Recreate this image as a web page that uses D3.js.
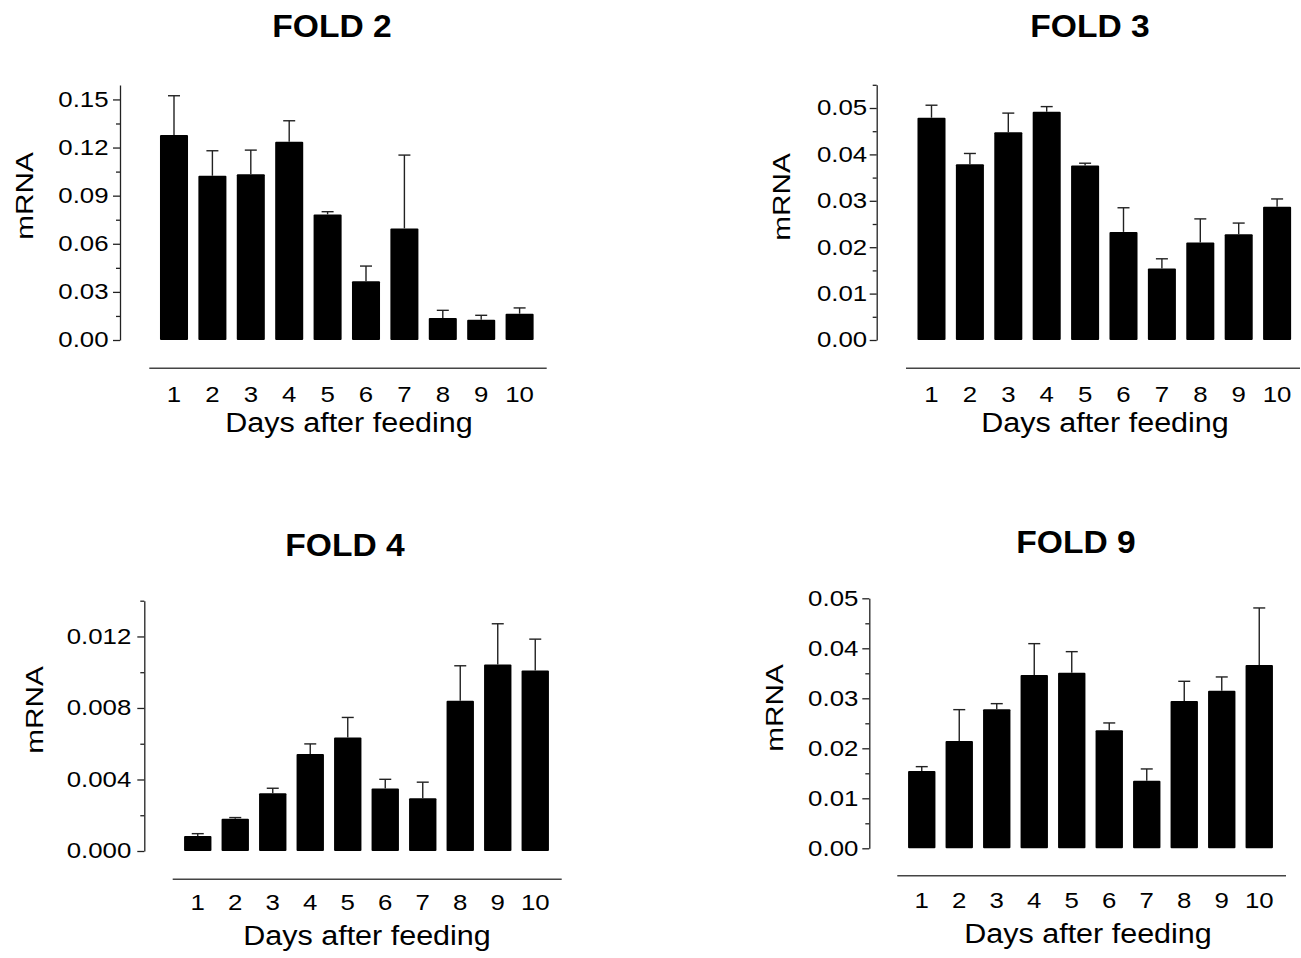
<!DOCTYPE html>
<html>
<head>
<meta charset="utf-8">
<script src="https://cdn.jsdelivr.net/npm/d3@7"></script>
<style>
  html, body { margin: 0; padding: 0; background: #fff; }
  svg { display: block; }
  text { font-family: "Liberation Sans", Arial, Helvetica, sans-serif; fill: #000; }
</style>
</head>
<body>
<svg id="chart" width="1301" height="958"></svg>
<script>
// ---------------- data ----------------
const days = ["1", "2", "3", "4", "5", "6", "7", "8", "9", "10"];
const xAxisTitle = "Days after feeding";
const yAxisTitle = "mRNA";

const fold2Title = "FOLD 2";
const fold2Mean = [0.1278, 0.1024, 0.1033, 0.1236, 0.0783, 0.0366, 0.0696, 0.0137, 0.0127, 0.0164];
const fold2Sem  = [0.0245, 0.0156, 0.0151, 0.0131, 0.0017, 0.0095, 0.0457, 0.0048, 0.0027, 0.0036];
const fold2Ticks = [0, 0.03, 0.06, 0.09, 0.12, 0.15];
const fold2Minor = [0.015, 0.045, 0.075, 0.105, 0.135];

const fold3Title = "FOLD 3";
const fold3Mean = [0.0479, 0.0379, 0.0448, 0.0492, 0.0376, 0.0233, 0.0154, 0.0210, 0.0228, 0.0287];
const fold3Sem  = [0.0027, 0.0023, 0.0041, 0.0011, 0.0005, 0.0052, 0.0021, 0.0051, 0.0024, 0.0017];
const fold3Ticks = [0, 0.01, 0.02, 0.03, 0.04, 0.05];
const fold3Minor = [0.005, 0.015, 0.025, 0.035, 0.045, 0.055];

const fold4Title = "FOLD 4";
const fold4Mean = [0.00084, 0.00181, 0.00323, 0.00543, 0.00635, 0.00349, 0.00295, 0.0084, 0.01043, 0.0101];
const fold4Sem  = [0.00013, 0.00006, 0.00028, 0.00056, 0.00112, 0.00052, 0.0009, 0.00196, 0.00228, 0.00175];
const fold4Ticks = [0, 0.004, 0.008, 0.012];
const fold4Minor = [0.002, 0.006, 0.010, 0.014];

const fold9Title = "FOLD 9";
const fold9Mean = [0.01547, 0.02147, 0.0278, 0.03467, 0.03513, 0.0236, 0.01353, 0.02947, 0.03153, 0.03667];
const fold9Sem  = [0.00086, 0.00626, 0.00113, 0.00626, 0.0042, 0.00147, 0.00234, 0.00393, 0.00274, 0.0114];
const fold9Ticks = [0, 0.01, 0.02, 0.03, 0.04, 0.05];
const fold9Minor = [0.005, 0.015, 0.025, 0.035, 0.045];

// ---------------- layout ----------------
const panels = [
  { title: fold2Title, mean: fold2Mean, sem: fold2Sem, ticks: fold2Ticks, minor: fold2Minor, fmt: ".2f",
    yMax: 0.159, axisX: 120, y0: 340, yTop: 85, bandStart: 154.8, step: 38.4, labGap: 11.5,
    titleX: 332, titleY: 37, yLabX: 25, yLabY: 196,
    baseY: 368.3, baseX0: 149.3, baseX1: 546.7, tickY: 402, xLabX: 349, xLabY: 432 },
  { title: fold3Title, mean: fold3Mean, sem: fold3Sem, ticks: fold3Ticks, minor: fold3Minor, fmt: ".2f",
    yMax: 0.055, axisX: 876.7, y0: 340, yTop: 84.8, bandStart: 912.3, step: 38.4, labGap: 9.5,
    titleX: 1090, titleY: 37, yLabX: 782, yLabY: 197,
    baseY: 368.3, baseX0: 906, baseX1: 1300, tickY: 402, xLabX: 1105, xLabY: 432 },
  { title: fold4Title, mean: fold4Mean, sem: fold4Sem, ticks: fold4Ticks, minor: fold4Minor, fmt: ".3f",
    yMax: 0.014, axisX: 144.3, y0: 851, yTop: 600.7, bandStart: 179, step: 37.5, labGap: 13,
    titleX: 345, titleY: 556, yLabX: 35, yLabY: 710,
    baseY: 879.3, baseX0: 172.7, baseX1: 561.7, tickY: 910, xLabX: 367, xLabY: 945 },
  { title: fold9Title, mean: fold9Mean, sem: fold9Sem, ticks: fold9Ticks, minor: fold9Minor, fmt: ".2f",
    yMax: 0.05, axisX: 869.3, y0: 848.3, yTop: 598.3, bandStart: 903, step: 37.5, labGap: 11,
    titleX: 1076, titleY: 553, yLabX: 775, yLabY: 708,
    baseY: 875.7, baseX0: 897.3, baseX1: 1286, tickY: 907.5, xLabX: 1088, xLabY: 943 }
];

const TICK_FS = 21.5, TICK_SX = 1.2;
const XT_FS = 28, XT_SX = 1.09;
const TITLE_FS = 32, TITLE_SX = 1.05;
const YT_FS = 24, YT_SX = 1.24;

const svg = d3.select("#chart");
svg.append("rect").attr("width", 1301).attr("height", 958).attr("fill", "#fff");

panels.forEach(p => {
  const g = svg.append("g");
  const x = d3.scaleBand()
    .domain(days)
    .range([p.bandStart, p.bandStart + p.step * days.length])
    .paddingInner(0.27)
    .paddingOuter(0.135);
  const y = d3.scaleLinear().domain([0, p.yMax]).range([p.y0, p.yTop]);

  // title
  g.append("text")
    .attr("transform", `translate(${p.titleX},${p.titleY}) scale(${TITLE_SX},1)`)
    .attr("text-anchor", "middle")
    .style("font-size", TITLE_FS + "px").style("font-weight", "bold")
    .text(p.title);

  // y axis (major)
  const yAxis = g.append("g")
    .attr("transform", `translate(${p.axisX},0)`)
    .call(d3.axisLeft(y).tickValues(p.ticks).tickFormat(d3.format(p.fmt))
      .tickSize(7).tickSizeOuter(0).tickPadding(4));
  yAxis.select(".domain").attr("stroke", "#222").attr("stroke-width", 1.3);
  yAxis.selectAll(".tick line").attr("stroke", "#222").attr("stroke-width", 1.3);
  yAxis.selectAll(".tick text")
    .attr("font-family", null)
    .attr("font-size", null)
    .style("font-size", TICK_FS + "px")
    .attr("x", -p.labGap / TICK_SX)
    .attr("transform", `scale(${TICK_SX},1)`);

  // y axis (minor)
  const yMinor = g.append("g")
    .attr("transform", `translate(${p.axisX},0)`)
    .call(d3.axisLeft(y).tickValues(p.minor).tickFormat(() => "")
      .tickSize(4).tickSizeOuter(0));
  yMinor.select(".domain").remove();
  yMinor.selectAll(".tick text").remove();
  yMinor.selectAll(".tick line").attr("stroke", "#222").attr("stroke-width", 1.3);

  // y title
  g.append("text")
    .attr("transform", `translate(${p.yLabX},${p.yLabY}) rotate(-90) scale(${YT_SX},1)`)
    .attr("text-anchor", "middle")
    .attr("dominant-baseline", "central")
    .style("font-size", YT_FS + "px")
    .text(yAxisTitle);

  // bars
  const data = days.map((d, i) => ({ day: d, mean: p.mean[i], sem: p.sem[i] }));
  g.append("g").selectAll("rect")
    .data(data).join("rect")
    .attr("x", d => x(d.day))
    .attr("width", x.bandwidth())
    .attr("y", d => y(d.mean))
    .attr("height", d => y(0) - y(d.mean))
    .attr("fill", "#000")
    .attr("rx", 1);

  // error bars (upper)
  const eb = g.append("g").attr("stroke", "#222").attr("stroke-width", 1.4);
  eb.selectAll("line.v").data(data).join("line").attr("class", "v")
    .attr("x1", d => x(d.day) + x.bandwidth() / 2)
    .attr("x2", d => x(d.day) + x.bandwidth() / 2)
    .attr("y1", d => y(d.mean))
    .attr("y2", d => y(d.mean + d.sem));
  eb.selectAll("line.c").data(data).join("line").attr("class", "c")
    .attr("x1", d => x(d.day) + x.bandwidth() / 2 - 6)
    .attr("x2", d => x(d.day) + x.bandwidth() / 2 + 6)
    .attr("y1", d => y(d.mean + d.sem))
    .attr("y2", d => y(d.mean + d.sem));

  // detached x baseline
  g.append("line")
    .attr("x1", p.baseX0).attr("x2", p.baseX1)
    .attr("y1", p.baseY).attr("y2", p.baseY)
    .attr("stroke", "#444").attr("stroke-width", 1.6);

  // x tick labels
  g.append("g").selectAll("text")
    .data(days).join("text")
    .attr("transform", d => `translate(${x(d) + x.bandwidth() / 2},${p.tickY}) scale(${TICK_SX},1)`)
    .attr("text-anchor", "middle")
    .style("font-size", TICK_FS + "px")
    .text(d => d);

  // x title
  g.append("text")
    .attr("transform", `translate(${p.xLabX},${p.xLabY}) scale(${XT_SX},1)`)
    .attr("text-anchor", "middle")
    .style("font-size", XT_FS + "px")
    .text(xAxisTitle);
});
</script>
</body>
</html>
